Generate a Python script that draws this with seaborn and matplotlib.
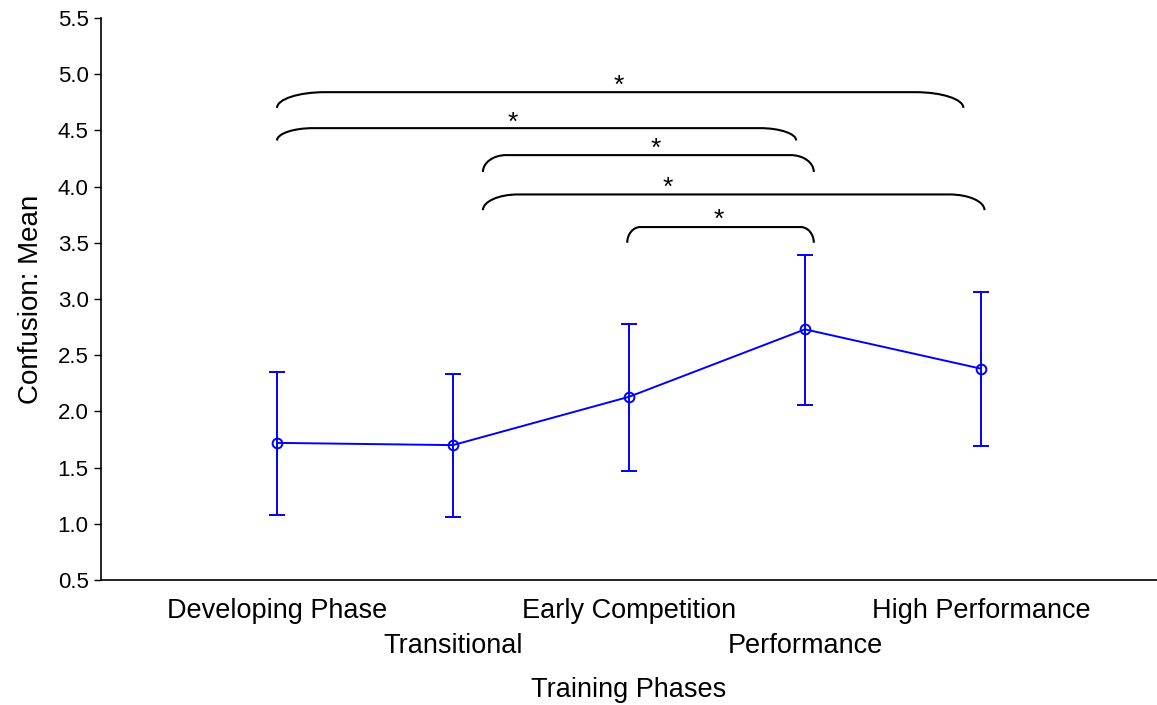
import matplotlib
matplotlib.use("Agg")
import matplotlib.pyplot as plt
from matplotlib.path import Path
from matplotlib.patches import PathPatch
import numpy as np
import pandas as pd
import seaborn as sns

# ---- data ----
phases = ["Developing Phase", "Transitional", "Early Competition", "Performance", "High Performance"]
means = [1.72, 1.70, 2.13, 2.73, 2.38]
lower = [1.08, 1.06, 1.47, 2.06, 1.69]
upper = [2.35, 2.33, 2.78, 3.39, 3.06]
yticks = [0.5, 1.0, 1.5, 2.0, 2.5, 3.0, 3.5, 4.0, 4.5, 5.0, 5.5]
# significance brackets: (x start, x end, bottom y, top y, star x, star y)
brackets = [
    (0.00, 3.90, 4.70, 4.84, 1.94, 4.90),
    (0.00, 2.95, 4.41, 4.52, 1.34, 4.57),
    (1.17, 3.05, 4.13, 4.28, 2.15, 4.34),
    (1.17, 4.02, 3.79, 3.93, 2.22, 3.99),
    (1.99, 3.05, 3.50, 3.64, 2.51, 3.70),
]

sns.set_theme(style="white")
plt.rcParams['font.family'] = ['Liberation Sans', 'DejaVu Sans']
plt.rcParams['text.color'] = 'black'
plt.rcParams['axes.labelcolor'] = 'black'
plt.rcParams['xtick.color'] = 'black'
plt.rcParams['ytick.color'] = 'black'

fig = plt.figure(figsize=(11.57, 7.05), dpi=100)
ax = fig.add_axes([0.0873, 0.1773, 0.9127, 0.7972])

df = pd.DataFrame({"pos": np.arange(len(phases)), "mean": means})
yerr = np.array([np.array(means) - np.array(lower), np.array(upper) - np.array(means)])
ax.errorbar(df["pos"], df["mean"], yerr=yerr, fmt="none", ecolor="#0000ff",
            elinewidth=1.4, capsize=6, capthick=1.4, zorder=2)
sns.lineplot(data=df, x="pos", y="mean", ax=ax, color="#0000ff", linewidth=1.4,
             marker="o", markersize=7, markerfacecolor="none",
             markeredgecolor="#0000ff", markeredgewidth=1.4, zorder=3)

# brackets
for x0, x1, yb, yt, sx, sy in brackets:
    r = 0.07 * (x1 - x0)
    k = 0.5523
    h = yt - yb
    verts = [
        (x0, yb), (x0, yb + k * h), (x0 + r - k * r, yt), (x0 + r, yt),
        (x1 - r, yt),
        (x1 - r + k * r, yt), (x1, yb + k * h), (x1, yb),
    ]
    codes = [Path.MOVETO, Path.CURVE4, Path.CURVE4, Path.CURVE4,
             Path.LINETO,
             Path.CURVE4, Path.CURVE4, Path.CURVE4]
    ax.add_patch(PathPatch(Path(verts, codes), facecolor="none", edgecolor="black",
                           linewidth=1.5, zorder=4))
    ax.text(sx, sy, "*", ha="center", va="center", fontsize=19, color="black")

ax.set_xlim(-1, 5)
ax.set_ylim(0.5, 5.5)
ax.set_yticks(yticks)
ax.set_yticklabels([f"{v:.1f}" for v in yticks], fontsize=16)

major_pos = [i for i in range(len(phases)) if i % 2 == 0]
minor_pos = [i for i in range(len(phases)) if i % 2 == 1]
ax.set_xticks(major_pos)
ax.set_xticklabels([phases[i] for i in major_pos], fontsize=19.5)
ax.set_xticks(minor_pos, minor=True)
ax.set_xticklabels([phases[i] for i in minor_pos], minor=True, fontsize=19.5)

ax.tick_params(axis="x", which="major", direction="in", length=6, width=1, pad=13)
ax.tick_params(axis="x", which="minor", direction="in", length=6, width=1, pad=38)
ax.tick_params(axis="y", direction="out", length=5, width=1, pad=4, left=True)
ax.set_xlabel("Training Phases", fontsize=19.5, labelpad=13)
ax.set_ylabel("Confusion: Mean", fontsize=20, labelpad=10)

for s in ["top", "right"]:
    ax.spines[s].set_visible(False)
for s in ["left", "bottom"]:
    ax.spines[s].set_color("black")
    ax.spines[s].set_linewidth(1.2)

fig.savefig("out.png", dpi=100, facecolor="white")
